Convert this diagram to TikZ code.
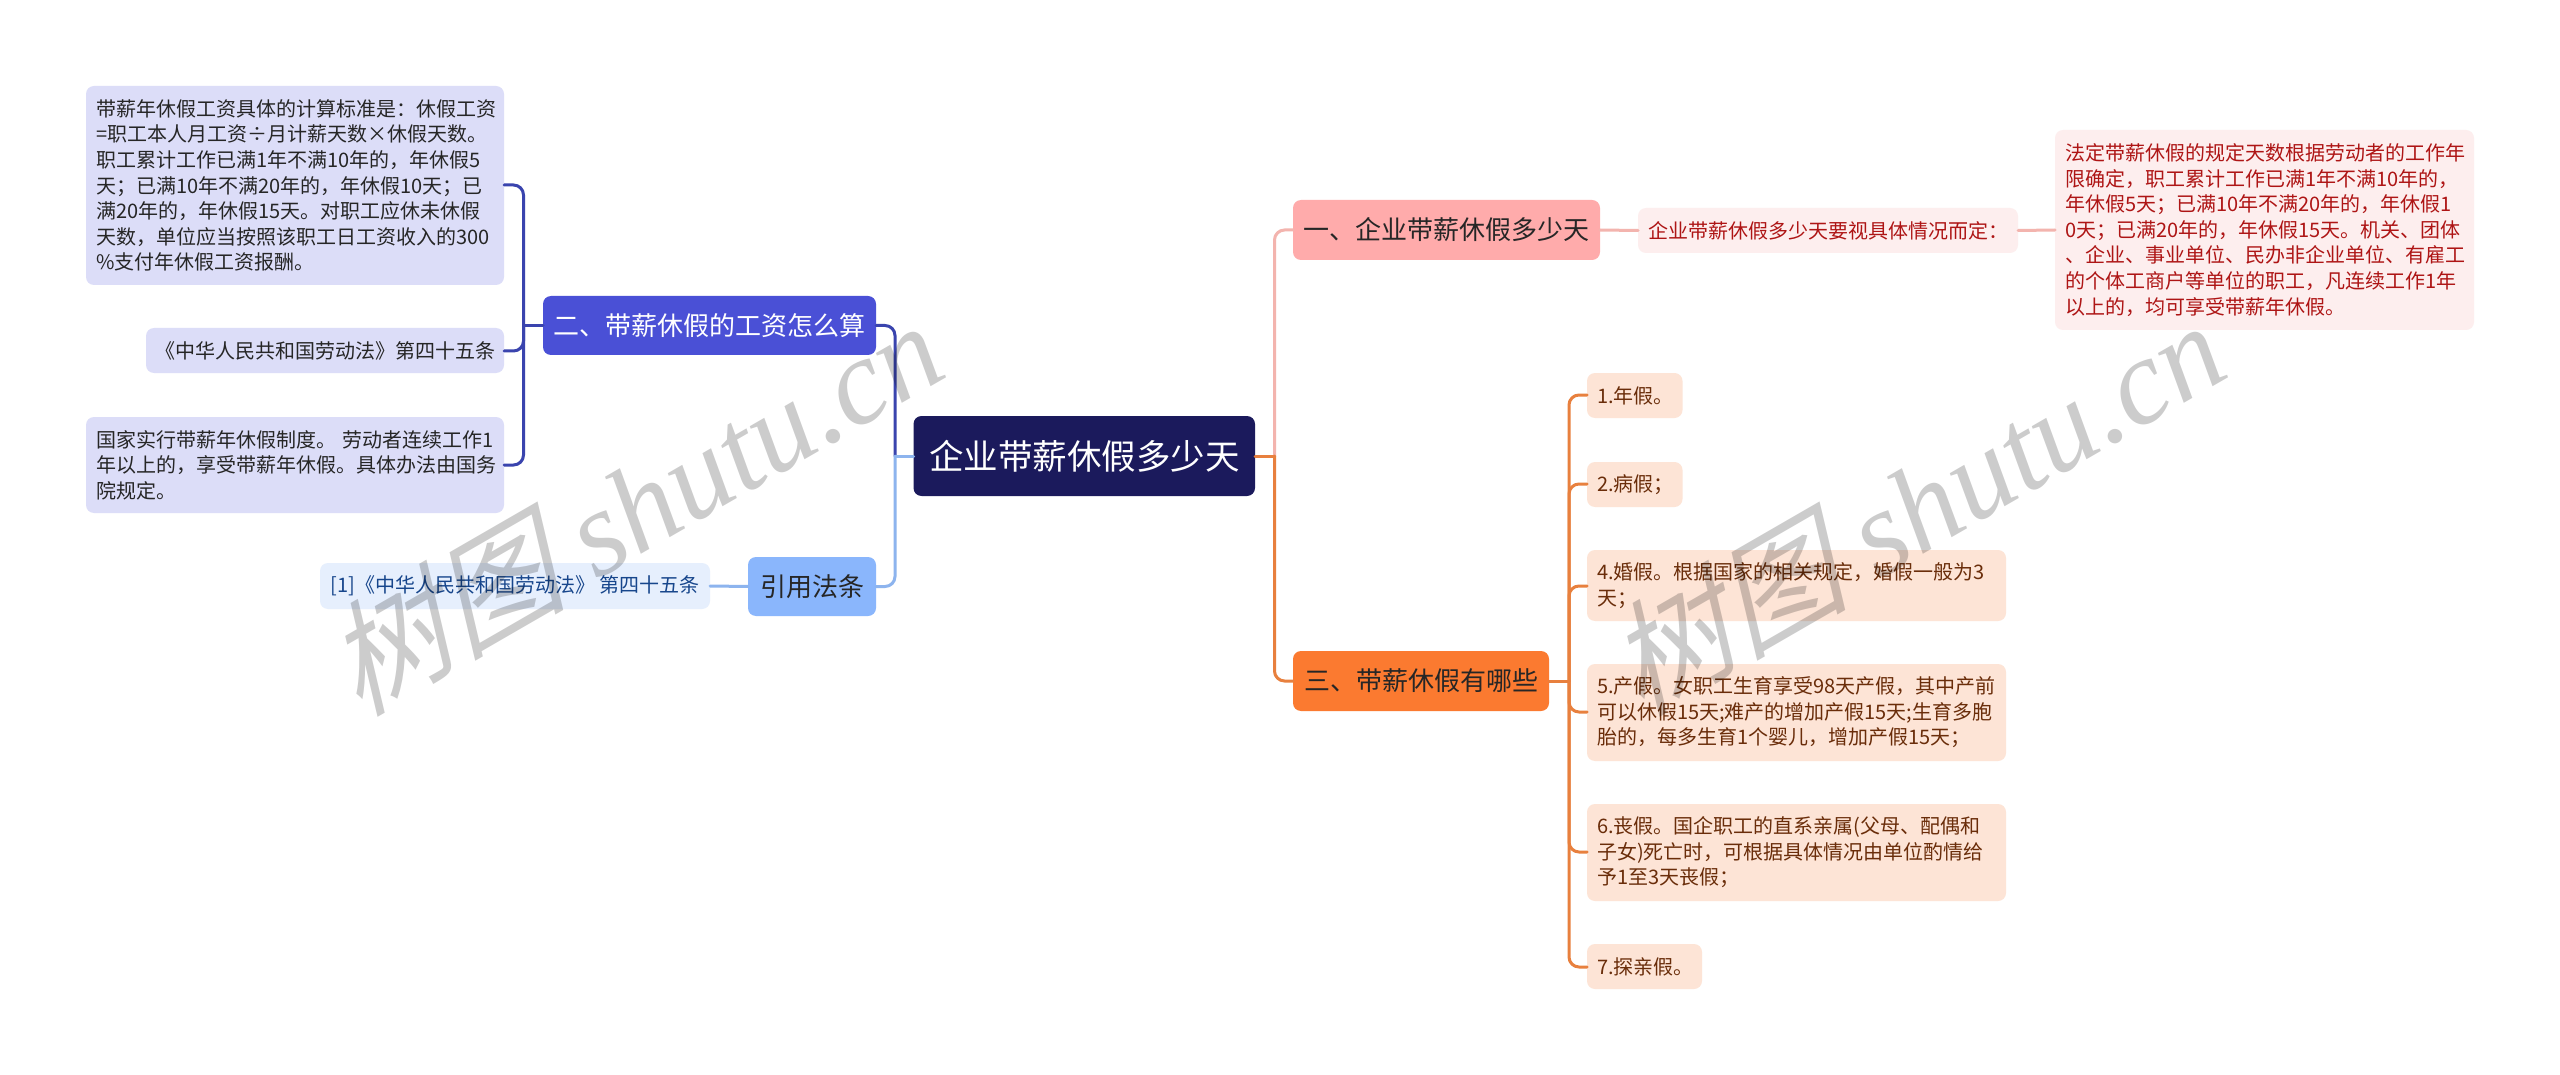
\documentclass[tikz,border=0pt]{standalone}
\usepackage{fontspec}
\setmainfont{Noto Sans CJK SC}
\newfontfamily\wmcjk[FakeSlant=0.3]{Noto Sans CJK SC}
\newfontfamily\wmlat{Liberation Serif}[ItalicFont=* Italic]
\usetikzlibrary{calc}
\definecolor{cRoot}{HTML}{1B1A5C}
\definecolor{cTwo}{HTML}{4A50D6}
\definecolor{cTwoL}{HTML}{DCDDF8}
\definecolor{cTwoE}{HTML}{3A44AE}
\definecolor{cCite}{HTML}{8AB6FC}
\definecolor{cCiteL}{HTML}{E6EFFD}
\definecolor{cCiteE}{HTML}{8DB4EE}
\definecolor{cCiteT}{HTML}{17468C}
\definecolor{cOne}{HTML}{FFABAB}
\definecolor{cOneL}{HTML}{FDEEEE}
\definecolor{cOneE}{HTML}{F3B4AE}
\definecolor{cOneT}{HTML}{AE1515}
\definecolor{cThree}{HTML}{FB7A30}
\definecolor{cThreeL}{HTML}{FDE4D6}
\definecolor{cThreeE}{HTML}{E8803E}
\definecolor{cThreeT}{HTML}{6A2D0A}
\tikzset{
  x=1pt,y=-1pt,
  box/.style={rounded corners=8pt,inner sep=0pt,outer sep=0pt,anchor=center},
  big/.style={box,font=\fontsize{26}{32}\selectfont,align=center},
  leaf/.style={box,font=\fontsize{20}{25.6}\selectfont,align=left},
  conn/.style={line width=3pt,line cap=round,rounded corners=10pt},
  wm/.style={text=black,text opacity=0.2,rotate=30,anchor=center,inner sep=0pt,font=\fontsize{122}{122}\selectfont},
}
% name, x1, y1, x2, y2, style, text
\newcommand{\bx}[7]{%
  \pgfmathsetmacro{\bw}{#4-#2}\pgfmathsetmacro{\bh}{#5-#3}%
  \pgfmathsetmacro{\bcx}{(#2+#4)/2}\pgfmathsetmacro{\bcy}{(#3+#5)/2}%
  \node[#6,minimum width=\bw pt,minimum height=\bh pt] (#1) at (\bcx,\bcy) {#7};}
\newcommand{\lf}[7]{%
  \pgfmathsetmacro{\bw}{#4-#2}\pgfmathsetmacro{\bh}{#5-#3}\pgfmathsetmacro{\tw}{#4-#2-20}%
  \pgfmathsetmacro{\bcx}{(#2+#4)/2}\pgfmathsetmacro{\bcy}{(#3+#5)/2}%
  \node[leaf,#6,minimum width=\bw pt,minimum height=\bh pt,text width=\tw pt] (#1) at (\bcx,\bcy) {#7};}
\begin{document}
\begin{tikzpicture}
\useasboundingbox (0,0) rectangle (2560,1075);
\fill[white] (0,0) rectangle (2560,1075);
\coordinate (busL) at (895,456);
\coordinate (busR) at (1274.5,456);
\coordinate (busTwo) at (523.5,325.5);
\coordinate (busThree) at (1569,681);

\bx{root}{913.5}{416}{1255}{496}{box,fill=cRoot,text=white,font=\fontsize{34.5}{40}\selectfont}{企业带薪休假多少天}
\bx{two}{543}{296}{876}{355}{big,fill=cTwo,text=white}{二、带薪休假的工资怎么算}
\bx{cite}{748}{557}{876}{616}{big,fill=cCite,text=black!85}{引用法条}
\bx{one}{1293}{200}{1600}{260}{big,fill=cOne,text=black!85}{一、企业带薪休假多少天}
\bx{three}{1293}{651}{1549}{711}{big,fill=cThree,text=black!85}{三、带薪休假有哪些}

\lf{a}{86}{86}{504}{285}{fill=cTwoL,text=black!85}{带薪年休假工资具体的计算标准是：休假工资\\=职工本人月工资÷月计薪天数×休假天数。\\职工累计工作已满1年不满10年的，年休假5\\天；已满10年不满20年的，年休假10天；已\\满20年的，年休假15天。对职工应休未休假\\天数，单位应当按照该职工日工资收入的300\\\%支付年休假工资报酬。}
\bx{b}{146}{328}{504}{373}{leaf,fill=cTwoL,text=black!85}{《中华人民共和国劳动法》第四十五条}
\lf{c}{86}{417}{504}{513}{fill=cTwoL,text=black!85}{国家实行带薪年休假制度。 劳动者连续工作1\\年以上的，享受带薪年休假。具体办法由国务\\院规定。}
\bx{ref}{320}{563}{710}{609}{leaf,fill=cCiteL,text=cCiteT}{[1]《中华人民共和国劳动法》 第四十五条}
\bx{d}{1638}{208}{2018}{253}{leaf,fill=cOneL,text=cOneT}{企业带薪休假多少天要视具体情况而定：}
\lf{e}{2055}{130}{2474}{330}{fill=cOneL,text=cOneT}{法定带薪休假的规定天数根据劳动者的工作年\\限确定，职工累计工作已满1年不满10年的，\\年休假5天；已满10年不满20年的，年休假1\\0天；已满20年的，年休假15天。机关、团体\\、企业、事业单位、民办非企业单位、有雇工\\的个体工商户等单位的职工，凡连续工作1年\\以上的，均可享受带薪年休假。}
\lf{l1}{1587}{373}{1682.5}{418}{fill=cThreeL,text=cThreeT}{1.年假。}
\lf{l2}{1587}{462}{1682.5}{507}{fill=cThreeL,text=cThreeT}{2.病假；}
\lf{l4}{1587}{550}{2006}{621}{fill=cThreeL,text=cThreeT}{4.婚假。根据国家的相关规定，婚假一般为3\\天；}
\lf{l5}{1587}{664}{2006}{761}{fill=cThreeL,text=cThreeT}{5.产假。女职工生育享受98天产假，其中产前\\可以休假15天;难产的增加产假15天;生育多胞\\胎的，每多生育1个婴儿，增加产假15天；}
\lf{l6}{1587}{804}{2006}{901}{fill=cThreeL,text=cThreeT}{6.丧假。国企职工的直系亲属(父母、配偶和\\子女)死亡时，可根据具体情况由单位酌情给\\予1至3天丧假；}
\lf{l7}{1587}{944}{1702}{989}{fill=cThreeL,text=cThreeT}{7.探亲假。}

% connectors
\draw[conn,cTwoE] (two.east) -| (busL);
\draw[conn,cCiteE] (cite.east) -| (busL);
\draw[conn,cCiteE] (busL) -- (root.west);
\draw[conn,cOneE] (one.west) -| (busR);
\draw[conn,cThreeE] (three.west) -| (busR);
\draw[conn,cThreeE] (busR) -- (root.east);
\draw[conn,cCiteE] (ref.east) -- (cite.west);
\draw[conn,cOneE] (one.east) -- (d.west);
\draw[conn,cOneE] (d.east) -- (e.west);
\draw[conn,cTwoE] (two.west) -- (busTwo);
\foreach \n/\y in {a/185,b/351,c/465}{
  \draw[conn,cTwoE] (\n.east |- 0,\y) -| (busTwo);
}
\draw[conn,cThreeE] (three.east) -- (busThree);
\foreach \n/\y in {l1/395,l2/484,l4/586,l5/712,l6/852,l7/967}{
  \draw[conn,cThreeE] (\n.west |- 0,\y) -| (busThree);
}
% watermark
\node[wm] (w1) at (632,506) {{\wmcjk 树图}{\wmlat\itshape\ shutu.cn}};
\node[wm] (w2) at (1914,506) {{\wmcjk 树图}{\wmlat\itshape\ shutu.cn}};
\end{tikzpicture}
\end{document}
